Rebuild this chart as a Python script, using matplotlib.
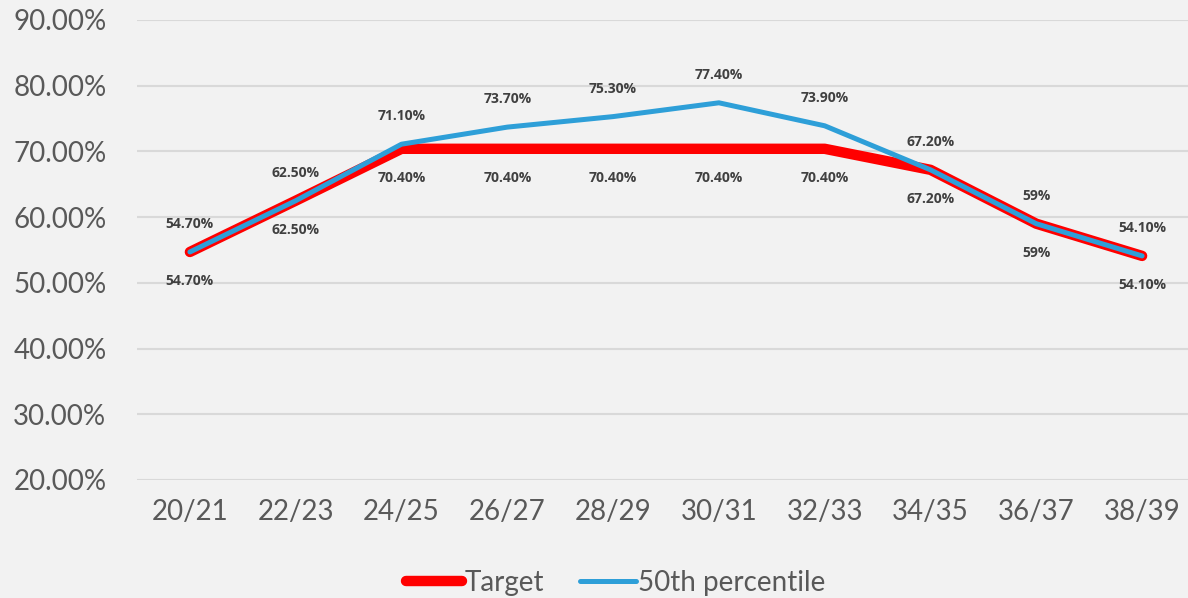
import matplotlib
matplotlib.use("Agg")
import matplotlib.pyplot as plt
from matplotlib.lines import Line2D

categories = ["20/21", "22/23", "24/25", "26/27", "28/29", "30/31", "32/33", "34/35", "36/37", "38/39"]
target = [54.7, 62.5, 70.4, 70.4, 70.4, 70.4, 70.4, 67.2, 59.0, 54.1]
p50 = [54.7, 62.5, 71.1, 73.7, 75.3, 77.4, 73.9, 67.2, 59.0, 54.1]
target_labels = ["54.70%", "62.50%", "70.40%", "70.40%", "70.40%", "70.40%", "70.40%", "67.20%", "59%", "54.10%"]
p50_labels = ["54.70%", "62.50%", "71.10%", "73.70%", "75.30%", "77.40%", "73.90%", "67.20%", "59%", "54.10%"]
yticks = [20, 30, 40, 50, 60, 70, 80, 90]

plt.rcParams['font.family'] = ['Lato', 'DejaVu Sans']
BG = "#f2f2f2"
RED = "#ff0000"
BLUE = "#2e9fd8"
LABEL_FONT = ['Open Sans', 'DejaVu Sans']

fig = plt.figure(figsize=(11.88, 5.98), dpi=100, facecolor=BG)
W, H = 1188, 598
ax = fig.add_axes([137 / W, 1 - 480 / H, (1195 - 137) / W, 460 / H])
ax.set_facecolor(BG)

x = list(range(len(categories)))
ax.plot(x, target, color=RED, lw=7.5, solid_capstyle='round', solid_joinstyle='round', zorder=3)
ax.plot(x, p50, color=BLUE, lw=3.6, solid_capstyle='round', solid_joinstyle='round', zorder=4)

for xi, v, lab in zip(x, target, target_labels):
    ax.annotate(lab, (xi, v), xytext=(0, -21), textcoords='offset points', ha='center', va='center',
                fontsize=10, fontweight='bold', color='#404040', family=LABEL_FONT)
for xi, v, lab in zip(x, p50, p50_labels):
    ax.annotate(lab, (xi, v), xytext=(0, 20), textcoords='offset points', ha='center', va='center',
                fontsize=10, fontweight='bold', color='#404040', family=LABEL_FONT)

ax.set_xlim(-0.5, 9.5)
ax.set_ylim(20, 90)
ax.set_yticks(yticks)
ax.set_yticklabels([f"{t:.2f}%" for t in yticks])
ax.set_xticks(x)
ax.set_xticklabels(categories)
ax.tick_params(axis='both', length=0, labelsize=20, labelcolor='#595959')
ax.tick_params(axis='y', pad=22)
ax.tick_params(axis='x', pad=14)
ax.grid(axis='y', color='#d9d9d9', lw=1.5)
ax.set_axisbelow(True)
for s in ax.spines.values():
    s.set_visible(False)

handles = [Line2D([], [], color=RED, lw=7.5, solid_capstyle='round'),
           Line2D([], [], color=BLUE, lw=3.6, solid_capstyle='round')]
fig.legend(handles, ["Target", "50th percentile"], loc='center', bbox_to_anchor=(616 / W, 1 - 583 / H),
           ncol=2, frameon=False, fontsize=20, handlelength=2.0, handletextpad=0.1, columnspacing=1.3,
           labelcolor='#595959')

fig.savefig("out.png", dpi=100, facecolor=BG)
